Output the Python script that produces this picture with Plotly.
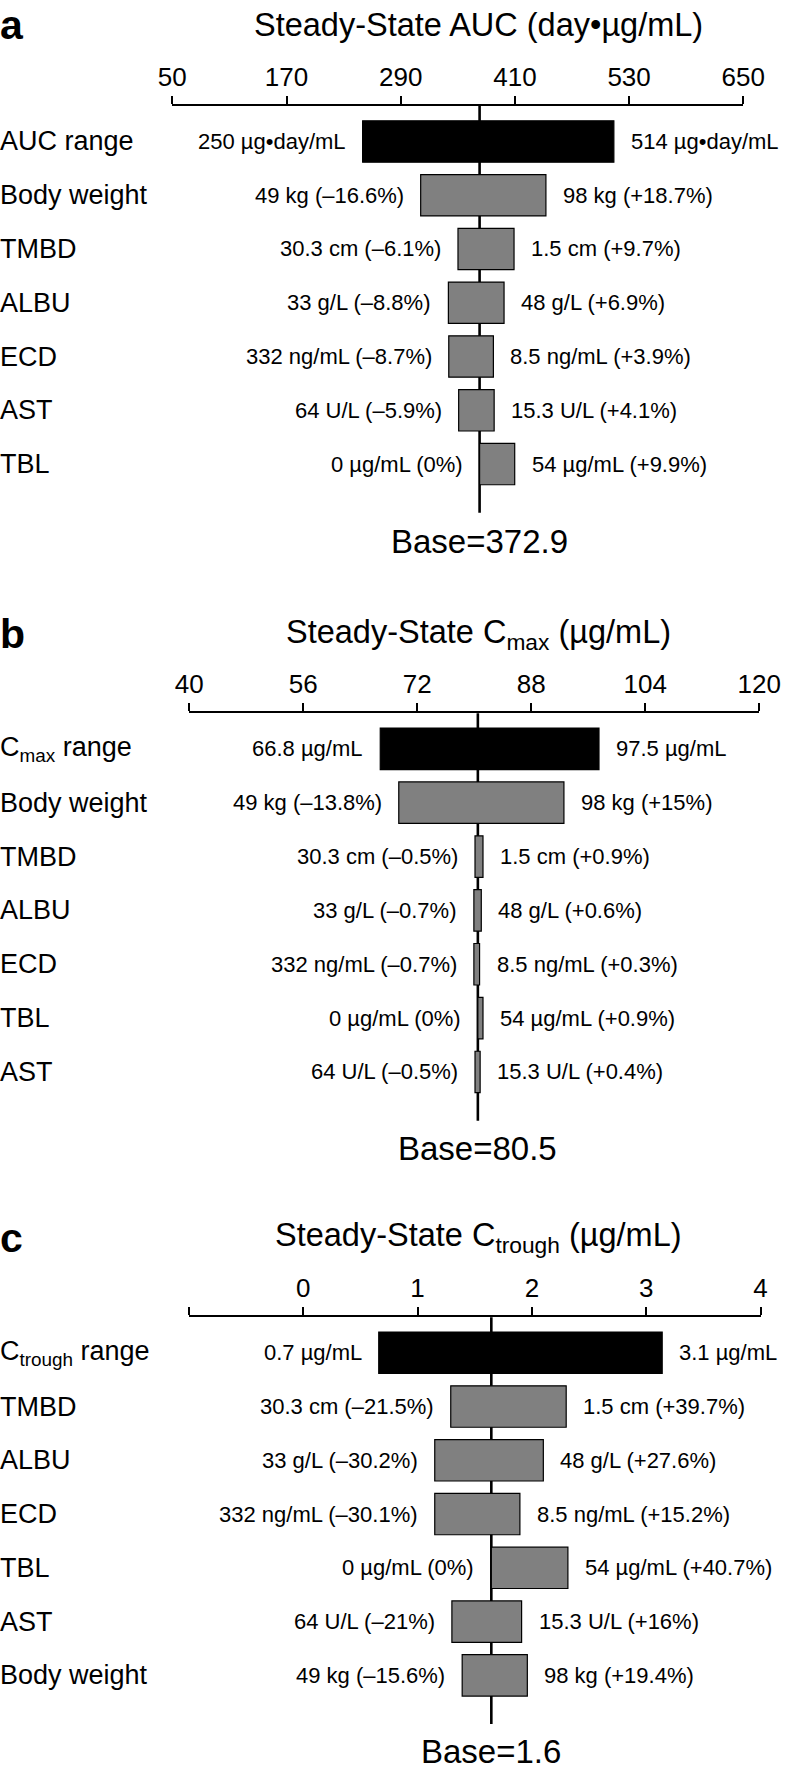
import plotly.graph_objects as go

FONT = "Liberation Sans, Arial, Helvetica, sans-serif"
W, H = 786, 1771

# ---------------- Data ----------------
# Panel a: Steady-State AUC
a_factors = ["AUC range", "Body weight", "TMBD", "ALBU", "ECD", "AST", "TBL"]
a_low = [250, 311.0, 350.2, 340.1, 340.5, 350.9, 372.9]
a_high = [514, 442.6, 409.1, 398.6, 387.4, 388.2, 409.8]
a_low_text = ["250 µg•day/mL", "49 kg (–16.6%)", "30.3 cm (–6.1%)", "33 g/L (–8.8%)",
              "332 ng/mL (–8.7%)", "64 U/L (–5.9%)", "0 µg/mL (0%)"]
a_high_text = ["514 µg•day/mL", "98 kg (+18.7%)", "1.5 cm (+9.7%)", "48 g/L (+6.9%)",
               "8.5 ng/mL (+3.9%)", "15.3 U/L (+4.1%)", "54 µg/mL (+9.9%)"]
a_base = 372.9
a_base_label = "Base=372.9"
a_tickvals = [50, 170, 290, 410, 530, 650]
a_ticktext = ["50", "170", "290", "410", "530", "650"]
a_title = "Steady-State AUC (day•µg/mL)"

# Panel b: Steady-State Cmax
b_factors = ["C<sub>max</sub> range", "Body weight", "TMBD", "ALBU", "ECD", "TBL", "AST"]
b_low = [66.8, 69.4, 80.1, 79.94, 79.94, 80.5, 80.1]
b_high = [97.5, 92.58, 81.22, 80.98, 80.74, 81.22, 80.82]
b_low_text = ["66.8 µg/mL", "49 kg (–13.8%)", "30.3 cm (–0.5%)", "33 g/L (–0.7%)",
              "332 ng/mL (–0.7%)", "0 µg/mL (0%)", "64 U/L (–0.5%)"]
b_high_text = ["97.5 µg/mL", "98 kg (+15%)", "1.5 cm (+0.9%)", "48 g/L (+0.6%)",
               "8.5 ng/mL (+0.3%)", "54 µg/mL (+0.9%)", "15.3 U/L (+0.4%)"]
b_base = 80.5
b_base_label = "Base=80.5"
b_tickvals = [40, 56, 72, 88, 104, 120]
b_ticktext = ["40", "56", "72", "88", "104", "120"]
b_title = "Steady-State C<sub>max</sub> (µg/mL)"

# Panel c: Steady-State Ctrough
c_factors = ["C<sub>trough</sub> range", "TMBD", "ALBU", "ECD", "TBL", "AST", "Body weight"]
c_low = [0.66, 1.29, 1.15, 1.15, 1.645, 1.30, 1.39]
c_high = [3.14, 2.30, 2.10, 1.895, 2.315, 1.91, 1.96]
c_low_text = ["0.7 µg/mL", "30.3 cm (–21.5%)", "33 g/L (–30.2%)", "332 ng/mL (–30.1%)",
              "0 µg/mL (0%)", "64 U/L (–21%)", "49 kg (–15.6%)"]
c_high_text = ["3.1 µg/mL", "1.5 cm (+39.7%)", "48 g/L (+27.6%)", "8.5 ng/mL (+15.2%)",
               "54 µg/mL (+40.7%)", "15.3 U/L (+16%)", "98 kg (+19.4%)"]
c_base = 1.645
c_base_label = "Base=1.6"
c_tickvals = [0, 1, 2, 3, 4]
c_ticktext = ["0", "1", "2", "3", "4"]
c_title = "Steady-State C<sub>trough</sub> (µg/mL)"

panels = [
    dict(letter="a", factors=a_factors, low=a_low, high=a_high, lt=a_low_text, ht=a_high_text,
         base=a_base, blabel=a_base_label, tv=a_tickvals, tt=a_ticktext, title=a_title,
         xdom=(172.3, 743.3), xr=(50, 650), ytop=106.0, ybot=512.7, title_y=25.0, base_y=541.7),
    dict(letter="b", factors=b_factors, low=b_low, high=b_high, lt=b_low_text, ht=b_high_text,
         base=b_base, blabel=b_base_label, tv=b_tickvals, tt=b_ticktext, title=b_title,
         xdom=(189.3, 759.3), xr=(40, 120), ytop=713.3, ybot=1120.7, title_y=634.0, base_y=1148.3),
    dict(letter="c", factors=c_factors, low=c_low, high=c_high, lt=c_low_text, ht=c_high_text,
         base=c_base, blabel=c_base_label, tv=c_tickvals, tt=c_ticktext, title=c_title,
         xdom=(189.0, 760.5), xr=(-1, 4), ytop=1317.3, ybot=1724.0, title_y=1237.5, base_y=1751.7),
]

fig = go.Figure()
annotations = []
shapes = []
layout_axes = {}

for k, p in enumerate(panels):
    idx = "" if k == 0 else str(k + 1)
    xa, ya = "x" + idx, "y" + idx
    n = len(p["factors"])
    ypos = list(range(n))
    colors = ["black"] + ["#808080"] * (n - 1)
    fig.add_trace(go.Bar(
        y=ypos, x=[h - l for l, h in zip(p["low"], p["high"])], base=p["low"],
        orientation="h", width=0.77, xaxis=xa, yaxis=ya,
        marker=dict(color=colors, line=dict(color="black", width=1.2)),
        hoverinfo="skip", showlegend=False,
    ))
    layout_axes["xaxis" + idx] = dict(
        domain=[p["xdom"][0] / W, p["xdom"][1] / W], anchor=ya, side="top",
        range=list(p["xr"]), tickmode="array", tickvals=p["tv"], ticktext=p["tt"],
        ticks="outside", ticklen=8, tickwidth=2, tickcolor="black",
        minor=dict(ticks="outside", ticklen=8, tickwidth=2, tickcolor="black",
                   tick0=p["xr"][0], dtick=(p["tv"][1] - p["tv"][0]), showgrid=False),
        showline=True, linewidth=2, linecolor="black", showgrid=False, zeroline=False,
        automargin=False,
        tickfont=dict(family=FONT, size=26, color="black"), fixedrange=True,
    )
    layout_axes["yaxis" + idx] = dict(
        domain=[1 - p["ybot"] / H, 1 - p["ytop"] / H], anchor=xa, automargin=False,
        range=[6.905, -0.66], visible=False, fixedrange=True,
    )
    # base line
    shapes.append(dict(type="line", xref=xa, yref=ya + " domain", x0=p["base"], x1=p["base"],
                       y0=0, y1=1, line=dict(color="black", width=2.6), layer="below"))
    for i in ypos:
        annotations.append(dict(xref="paper", yref=ya, x=0.0, y=i, xanchor="left", yanchor="middle",
                                xshift=-2, text=p["factors"][i], showarrow=False,
                                font=dict(family=FONT, size=27, color="black")))
        annotations.append(dict(xref=xa, yref=ya, x=p["low"][i], y=i, xanchor="right",
                                yanchor="middle", xshift=-15, text=p["lt"][i], showarrow=False,
                                font=dict(family=FONT, size=22, color="black")))
        annotations.append(dict(xref=xa, yref=ya, x=p["high"][i], y=i, xanchor="left",
                                yanchor="middle", xshift=15, text=p["ht"][i], showarrow=False,
                                font=dict(family=FONT, size=22, color="black")))
    annotations.append(dict(xref=xa, yref="paper", x=p["base"], y=1 - p["base_y"] / H,
                            xanchor="center", yanchor="middle", text=p["blabel"], showarrow=False,
                            font=dict(family=FONT, size=33, color="black")))
    annotations.append(dict(xref="paper", yref="paper", x=478 / W, y=1 - p["title_y"] / H,
                            xanchor="center", yanchor="middle", text=p["title"], showarrow=False,
                            font=dict(family=FONT, size=32.5, color="black")))
    annotations.append(dict(xref="paper", yref="paper", x=0.0, y=1 - p["title_y"] / H,
                            xanchor="left", yanchor="middle", xshift=-2,
                            text="<b>" + p["letter"] + "</b>",
                            showarrow=False, font=dict(family=FONT, size=41, color="black")))

fig.update_layout(
    width=W, height=H, margin=dict(l=0, r=0, t=0, b=0, pad=0, autoexpand=False),
    paper_bgcolor="white", plot_bgcolor="white", showlegend=False,
    annotations=annotations, shapes=shapes, barmode="overlay",
    **layout_axes,
)

fig.write_html("out.html", config={"displayModeBar": False, "staticPlot": True},
               post_script="document.body.style.margin='0';")
